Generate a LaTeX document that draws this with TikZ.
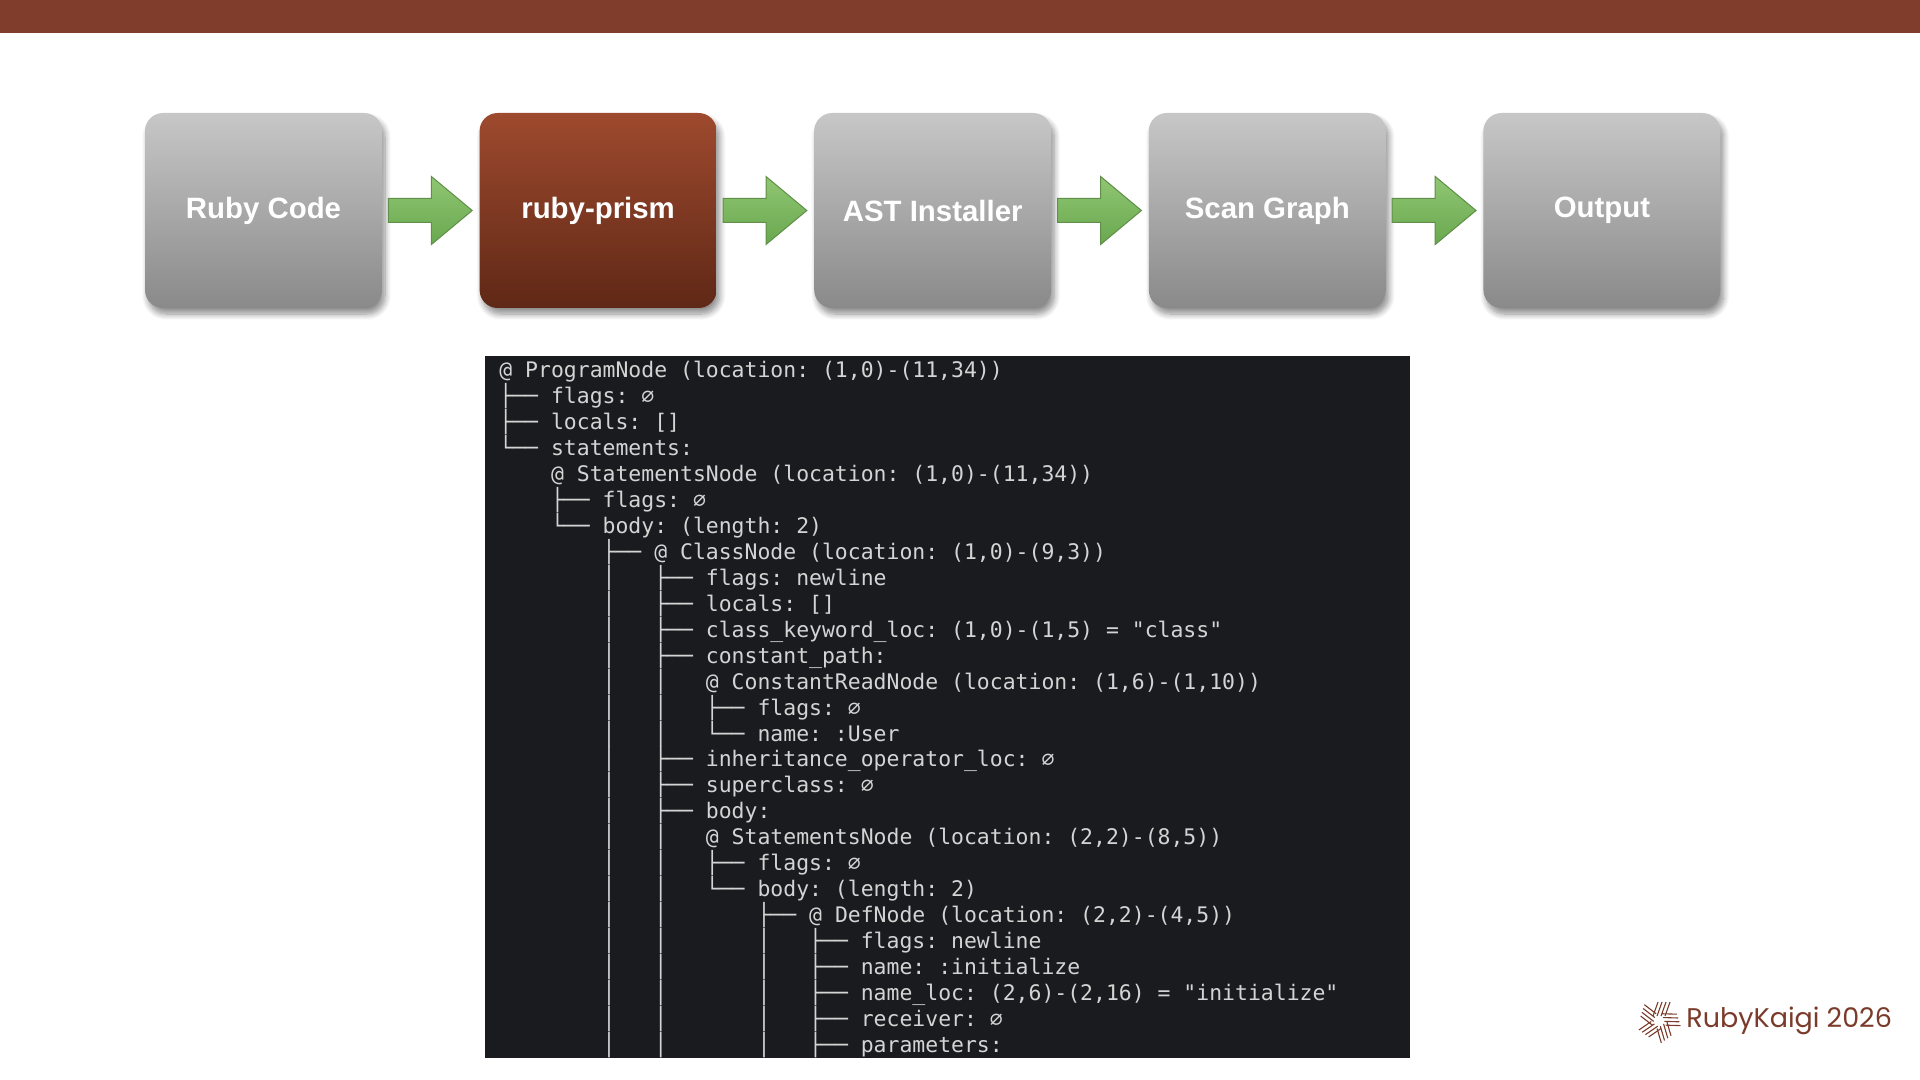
\documentclass[tikz,border=0pt]{standalone}
\usepackage{fontspec}
\setsansfont{Liberation Sans}
\setmonofont{DejaVu Sans Mono}
\newfontfamily\logofont{Poppins}
\usetikzlibrary{calc, positioning, shadows.blur}

\definecolor{barbrown}{HTML}{803D2C}
\definecolor{termbg}{HTML}{1A1B1E}
\definecolor{termtext}{HTML}{D4D4D4}
\definecolor{logobrown}{HTML}{7A3B2A}

\begin{document}
\begin{tikzpicture}[
  x = 0.5pt, y = -0.5pt,
  node distance = 48.4pt,
  stagebox/.style = {
    rectangle, rounded corners=9pt, text=white,
    minimum width=118.5pt, minimum height=97.5pt, align=center,
    font=\sffamily\bfseries\fontsize{14.7}{17}\selectfont,
    top color=black!22, bottom color=black!46,
    blur shadow={shadow xshift=1.5pt, shadow yshift=-3pt, shadow blur steps=8, shadow blur radius=3pt, shadow opacity=45}
  },
  activebox/.style = {stagebox, top color=red!35!brown!80!black, bottom color=red!30!brown!50!black},
  activebox/.append style = {top color=arrowtop!0!brickhi, bottom color=brickdark},
  flow/.style = {draw=arrowedge, line width=0.5pt, top color=arrowtop, bottom color=arrowbot},
  termline/.style = {anchor=base west, inner sep=0pt, text=termtext,
    font=\ttfamily\fontsize{10.72}{12}\selectfont},
  logotext/.style = {anchor=west, inner sep=0pt, text=logobrown,
    font=\logofont\fontsize{13.5}{16}\selectfont},
  weave/.style = {draw=logobrown, line width=0.55pt}
]
\colorlet{brickhi}{barbrown}
\definecolor{brickhi}{HTML}{9E4A2E}
\definecolor{brickdark}{HTML}{5F2816}
\definecolor{arrowtop}{HTML}{90C672}
\definecolor{arrowbot}{HTML}{69A84F}
\definecolor{arrowedge}{HTML}{5F8F48}

\fill[barbrown] (0,0) rectangle (1920,33);
\useasboundingbox (0,0) rectangle (1920,1080);

\node[stagebox] (code) at (263.5,210.5) {Ruby Code};
\node[activebox, right=of code] (prism) {ruby-prism};
\node[stagebox, right=of prism] (installer) {AST Installer};
\node[stagebox, right=of installer] (graph) {Scan Graph};
\node[stagebox, right=of graph] (output) {Output};

% Block arrows, kept a few pixels clear of both boxes.
\foreach \from/\to in {code/prism, prism/installer, installer/graph, graph/output} {
  \path[flow] ($(\from.east)+(6,-12)$) -- ++(43,0) -- ++(0,-22)
    -- ($(\to.west)+(-7,0)$)
    -- ($(\from.east)+(49,34)$) -- ++(0,-22) -- ($(\from.east)+(6,12)$) -- cycle;
}

\fill[termbg] (485,356) rectangle (1410,1058);
\foreach \txt [count=\row from 0] in {
  {@ ProgramNode (location: (1,0)-(11,34))},
  {├── flags: ∅},
  {├── locals: []},
  {└── statements:},
  {~~~~@ StatementsNode (location: (1,0)-(11,34))},
  {~~~~├── flags: ∅},
  {~~~~└── body: (length: 2)},
  {~~~~~~~~├── @ ClassNode (location: (1,0)-(9,3))},
  {~~~~~~~~│~~~├── flags: newline},
  {~~~~~~~~│~~~├── locals: []},
  {~~~~~~~~│~~~├── class\_keyword\_loc: (1,0)-(1,5) = "class"},
  {~~~~~~~~│~~~├── constant\_path:},
  {~~~~~~~~│~~~│~~~@ ConstantReadNode (location: (1,6)-(1,10))},
  {~~~~~~~~│~~~│~~~├── flags: ∅},
  {~~~~~~~~│~~~│~~~└── name: :User},
  {~~~~~~~~│~~~├── inheritance\_operator\_loc: ∅},
  {~~~~~~~~│~~~├── superclass: ∅},
  {~~~~~~~~│~~~├── body:},
  {~~~~~~~~│~~~│~~~@ StatementsNode (location: (2,2)-(8,5))},
  {~~~~~~~~│~~~│~~~├── flags: ∅},
  {~~~~~~~~│~~~│~~~└── body: (length: 2)},
  {~~~~~~~~│~~~│~~~~~~~├── @ DefNode (location: (2,2)-(4,5))},
  {~~~~~~~~│~~~│~~~~~~~│~~~├── flags: newline},
  {~~~~~~~~│~~~│~~~~~~~│~~~├── name: :initialize},
  {~~~~~~~~│~~~│~~~~~~~│~~~├── name\_loc: (2,6)-(2,16) = "initialize"},
  {~~~~~~~~│~~~│~~~~~~~│~~~├── receiver: ∅},
  {~~~~~~~~│~~~│~~~~~~~│~~~├── parameters:}
} {
  \node[termline] (line\row) at (499,{378+25.93*\row}) {\txt};
}

% Logo mark: five striped blades.
\foreach \ang in {0,72,144,216,288} {
  \begin{scope}[shift={(1659,1021)}, rotate=\ang]
    \foreach \off in {-6,-2,2,6} {
      \draw[weave] (\off,-5) -- (\off+5,-19);
    }
  \end{scope}
}
\node[logotext] (logo) at (1686,1021) {RubyKaigi 2026};

\end{tikzpicture}
\end{document}
